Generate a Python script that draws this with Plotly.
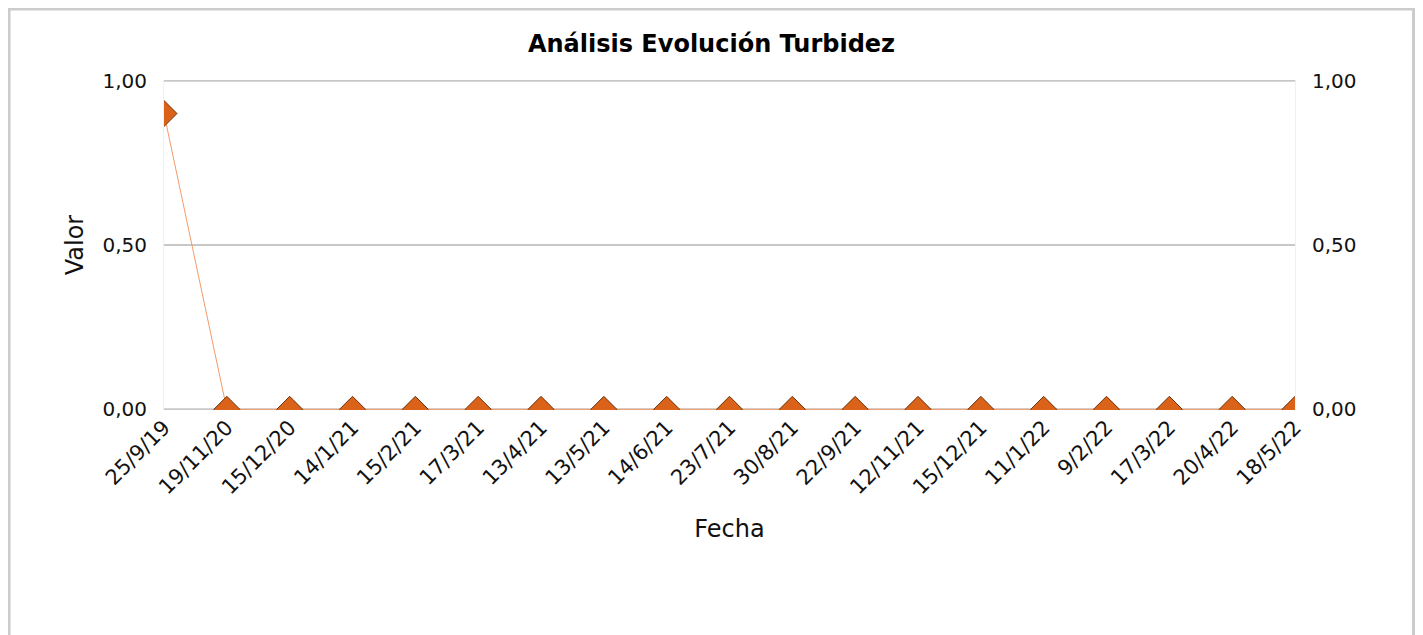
import plotly.graph_objs as go

# Turbidity readings per sampling date
fechas = ["25/9/19", "19/11/20", "15/12/20", "14/1/21", "15/2/21", "17/3/21",
          "13/4/21", "13/5/21", "14/6/21", "23/7/21", "30/8/21", "22/9/21",
          "12/11/21", "15/12/21", "11/1/22", "9/2/22", "17/3/22", "20/4/22",
          "18/5/22"]
valores = [0.9, 0, 0, 0, 0, 0, 0, 0, 0, 0, 0, 0, 0, 0, 0, 0, 0, 0, 0]

font_family = "DejaVu Sans"
y_ticks = [0, 0.5, 1]

fig = go.Figure()
fig.add_trace(go.Scatter(
    x=fechas, y=valores, mode="lines+markers", name="Turbidez",
    line=dict(color="#F29A68", width=1),
    marker=dict(symbol="diamond", size=20, color="#DA6219",
                line=dict(color="#6b3510", width=1)),
    cliponaxis=True, showlegend=False,
))
# invisible copy so the right-hand axis gets drawn
fig.add_trace(go.Scatter(
    x=fechas, y=valores, yaxis="y2", mode="markers",
    marker=dict(opacity=0), hoverinfo="skip", showlegend=False,
))

fig.update_layout(
    width=1407, height=627,
    margin=dict(l=156, r=120, t=72, b=225),
    plot_bgcolor="#fff", paper_bgcolor="#fff",
    separators=",.",
    font=dict(family=font_family, size=20, color="#111"),
    title=dict(text="<b>Análisis Evolución Turbidez</b>", x=0.5, xanchor="center",
               y=0.944, yanchor="middle", font=dict(size=24, color="#000")),
    xaxis=dict(type="category", range=[0, len(fechas) - 1], tickangle=-45,
               tickfont=dict(size=21),
               showgrid=False, showline=False, zeroline=False, ticks="",
               title=dict(text="Fecha", standoff=22)),
    yaxis=dict(range=[-0.002, 1.002], tickvals=y_ticks, tickformat=".2f",
               showgrid=False, zeroline=False,
               showline=True, linecolor="#f0f0f0", linewidth=1,
               ticks="", ticklabelstandoff=12,
               title=dict(text="Valor", standoff=12)),
    yaxis2=dict(range=[-0.002, 1.002], tickvals=y_ticks, tickformat=".2f",
                overlaying="y", side="right", showgrid=False, zeroline=False,
                showline=True, linecolor="#f0f0f0", linewidth=1,
                ticks="", ticklabelstandoff=12),
)

# horizontal grid lines (plotly drops the ones at the range ends)
for v in y_ticks:
    fig.add_hline(y=v, line=dict(color="#c8c8c8", width=2), layer="below")

# outer frame around the chart
fig.add_shape(type="rect", xref="paper", yref="paper",
              x0=-0.137, x1=1.1048, y0=-1.0, y1=1.215,
              line=dict(color="#cccccc", width=3), layer="below")

fig.write_html("out.html")
